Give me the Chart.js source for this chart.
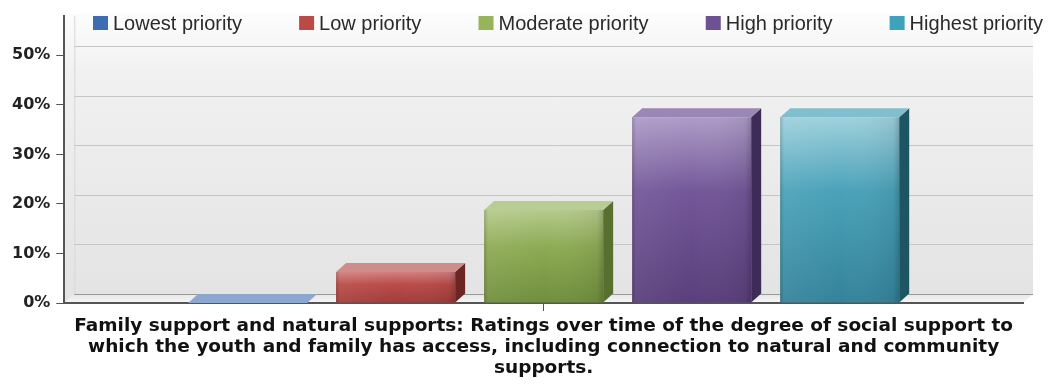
<!DOCTYPE html>
<html>
<head>
<meta charset="utf-8">
<script src="https://cdn.jsdelivr.net/npm/chart.js@4"></script>
<style>
  html, body { margin: 0; padding: 0; background: #fff; }
</style>
</head>
<body>
<canvas id="ratingChart" width="1049" height="385"></canvas>
<script>
const seriesNames = ['Lowest priority', 'Low priority', 'Moderate priority', 'High priority', 'Highest priority'];
const seriesValues = [0, 6.25, 18.75, 37.5, 37.5];
const yTickValues = [0, 10, 20, 30, 40, 50];
const axisTitle = [
  'Family support and natural supports: Ratings over time of the degree of social support to',
  'which the youth and family has access, including connection to natural and community',
  'supports.'
];

// per series: legend swatch, front face (top / middle / bottom), right side, top face
const swatchColors = ['#3d6cb2', '#bb4a47', '#97b45a', '#6d5192', '#3ea2bd'];
const frontColors = [
  ['#a9bfe0', '#6f93c9', '#557ab4'],
  ['#d27f7d', '#b94c49', '#a23c39'],
  ['#b5ca8c', '#8dab54', '#708e3d'],
  ['#ae9cc7', '#735799', '#593f7b'],
  ['#9fd1dd', '#4aa2b9', '#34839a']
];
const sideColors = ['#3a5a88', '#6d2523', '#58702f', '#3d2c57', '#1e5563'];
const topColors = ['#8ca7cf', '#d08c8a', '#b8cd93', '#9b87b5', '#82bfce'];

// how far the "depth" of the 3d box goes (right and up)
const DEPTH_X = 10;
const DEPTH_Y = -9;

const tickFont = { family: '"DejaVu Sans", Verdana, sans-serif', weight: 'bold', size: 16 };
const titleFont = { family: '"DejaVu Sans", Verdana, sans-serif', weight: 'bold', size: 18.5, lineHeight: 1.135 };

function frontFill(i) {
  return (c) => {
    const chart = c.chart;
    if (!chart.chartArea || !chart.scales.y) return frontColors[i][1];
    const y = chart.scales.y;
    const top = y.getPixelForValue(c.raw);
    const base = y.getPixelForValue(0);
    if (base - top < 1) return frontColors[i][1];
    const g = chart.ctx.createLinearGradient(0, top, 0, base);
    g.addColorStop(0, frontColors[i][0]);
    g.addColorStop(0.4, frontColors[i][1]);
    g.addColorStop(1, frontColors[i][2]);
    return g;
  };
}

function quad(ctx, pts, fill) {
  ctx.beginPath();
  ctx.moveTo(pts[0][0], pts[0][1]);
  for (let k = 1; k < pts.length; k++) ctx.lineTo(pts[k][0], pts[k][1]);
  ctx.closePath();
  ctx.fillStyle = fill;
  ctx.fill();
}

// back wall, side wall, floor and wall gridlines
const box3d = {
  id: 'box3d',
  beforeDraw(chart) {
    const { ctx, chartArea: a, scales } = chart;
    const L = a.left, R = a.right, T = a.top, B = a.bottom;
    ctx.save();

    const wall = ctx.createLinearGradient(0, T, 0, B);
    wall.addColorStop(0, '#fcfcfc');
    wall.addColorStop(0.2, '#f1f1f1');
    wall.addColorStop(1, '#e3e3e3');
    ctx.fillStyle = wall;
    ctx.fillRect(L + DEPTH_X, T - 2, R - L, B + DEPTH_Y - T + 2);

    // left side wall
    quad(ctx, [[L, T], [L + DEPTH_X, T - 2], [L + DEPTH_X, B + DEPTH_Y], [L, B]], wall);
    ctx.strokeStyle = '#d6d6d6';
    ctx.lineWidth = 1;
    ctx.beginPath();
    ctx.moveTo(L + DEPTH_X + 0.5, T);
    ctx.lineTo(L + DEPTH_X + 0.5, B + DEPTH_Y);
    ctx.stroke();

    // gridlines on the back wall
    ctx.strokeStyle = '#c6c6c6';
    yTickValues.forEach(v => {
      if (v === 0) return;
      const py = Math.round(scales.y.getPixelForValue(v) + DEPTH_Y) + 0.5;
      ctx.beginPath();
      ctx.moveTo(L + DEPTH_X, py);
      ctx.lineTo(R + DEPTH_X, py);
      ctx.stroke();
    });

    // floor
    const floor = ctx.createLinearGradient(0, B + DEPTH_Y, 0, B);
    floor.addColorStop(0, '#e6e6e6');
    floor.addColorStop(1, '#f7f7f7');
    quad(ctx, [[L, B], [L + DEPTH_X, B + DEPTH_Y], [R + DEPTH_X, B + DEPTH_Y], [R, B]], floor);
    ctx.strokeStyle = '#9a9a9a';
    ctx.beginPath();
    ctx.moveTo(L + DEPTH_X, B + DEPTH_Y + 0.5);
    ctx.lineTo(R + DEPTH_X, B + DEPTH_Y + 0.5);
    ctx.stroke();
    ctx.restore();
  },
  afterDatasetsDraw(chart) {
    const ctx = chart.ctx;
    ctx.save();
    chart.data.datasets.forEach((ds, i) => {
      const meta = chart.getDatasetMeta(i);
      meta.data.forEach(bar => {
        const xl = bar.x - bar.width / 2;
        const xr = bar.x + bar.width / 2;
        const top = bar.y;
        const base = bar.base;
        // soft rounding on the front face
        if (base - top > 1) {
          const sh = ctx.createLinearGradient(xl, 0, xr, 0);
          sh.addColorStop(0, 'rgba(0,0,0,0.18)');
          sh.addColorStop(0.04, 'rgba(255,255,255,0.06)');
          sh.addColorStop(0.5, 'rgba(255,255,255,0)');
          sh.addColorStop(0.95, 'rgba(0,0,0,0.06)');
          sh.addColorStop(1, 'rgba(0,0,0,0.2)');
          ctx.fillStyle = sh;
          ctx.fillRect(xl, top, xr - xl, base - top);
          // right side
          quad(ctx, [[xr, top], [xr + DEPTH_X, top + DEPTH_Y], [xr + DEPTH_X, base + DEPTH_Y], [xr, base]], sideColors[i]);
        }
        // top face
        quad(ctx, [[xl, top], [xl + DEPTH_X, top + DEPTH_Y], [xr + DEPTH_X, top + DEPTH_Y], [xr, top]], topColors[i]);
      });
    });
    ctx.restore();
  }
};

// single row legend spread across the top
const legendRow = {
  id: 'legendRow',
  afterDraw(chart) {
    const ctx = chart.ctx;
    const sw = 15, gap = 5, y = 23, x0 = 93, x1 = 1043;
    ctx.save();
    ctx.font = '20px "Liberation Sans", Arial, sans-serif';
    ctx.textBaseline = 'middle';
    const widths = seriesNames.map(n => sw + gap + ctx.measureText(n).width);
    const space = (x1 - x0 - widths.reduce((s, w) => s + w, 0)) / (seriesNames.length - 1);
    let x = x0;
    seriesNames.forEach((name, i) => {
      ctx.fillStyle = swatchColors[i];
      ctx.fillRect(x, y - 7, sw, 14);
      ctx.fillStyle = '#2a2a2a';
      ctx.fillText(name, x + sw + gap, y + 1);
      x += widths[i] + space;
    });
    ctx.restore();
  }
};

new Chart(document.getElementById('ratingChart'), {
  type: 'bar',
  data: {
    labels: [''],
    datasets: seriesNames.map((name, i) => ({
      label: name,
      data: [seriesValues[i]],
      backgroundColor: frontFill(i),
      borderWidth: 0,
      barPercentage: 0.804,
      categoryPercentage: 0.772
    }))
  },
  options: {
    responsive: false,
    devicePixelRatio: 1,
    animation: false,
    layout: { padding: { top: 15, right: 26, left: 6, bottom: 0 } },
    plugins: {
      legend: { display: false },
      tooltip: { enabled: false }
    },
    scales: {
      x: {
        offset: true,
        grid: { drawOnChartArea: false, offset: false, tickLength: 8, color: '#555' },
        border: { display: true, color: '#555', width: 2 },
        ticks: { display: false },
        title: {
          display: true,
          text: axisTitle,
          color: '#111',
          font: titleFont,
          padding: { top: 5, bottom: 6 }
        }
      },
      y: {
        min: 0,
        max: 58,
        afterBuildTicks: s => { s.ticks = yTickValues.map(v => ({ value: v })); },
        grid: { drawOnChartArea: false, tickLength: 8, color: '#555' },
        border: { display: true, color: '#555', width: 2 },
        ticks: {
          callback: v => v + '%',
          color: '#222',
          font: tickFont,
          padding: 6
        }
      }
    }
  },
  plugins: [box3d, legendRow]
});
</script>
</body>
</html>
